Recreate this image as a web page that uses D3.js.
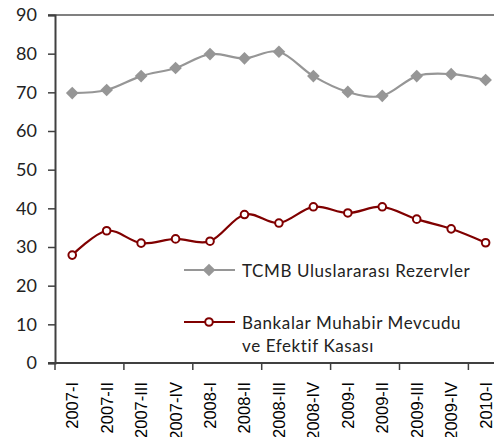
<!DOCTYPE html>
<html><head><meta charset="utf-8">
<script src="https://cdn.jsdelivr.net/npm/d3@7"></script>
<style>body{margin:0;background:#fff}svg{display:block}</style>
</head><body>
<svg id="c" width="494" height="437"></svg>
<script>
const categories = ["2007-I","2007-II","2007-III","2007-IV","2008-I","2008-II","2008-III","2008-IV","2009-I","2009-II","2009-III","2009-IV","2010-I"];
const reserves = [69.8, 70.6, 74.2, 76.3, 79.9, 78.8, 80.5, 74.2, 70.1, 69.1, 74.2, 74.7, 73.2];
const banks = [27.9, 34.2, 31.0, 32.1, 31.5, 38.4, 36.2, 40.4, 38.8, 40.4, 37.2, 34.7, 31.1];
const yTicks = [0,10,20,30,40,50,60,70,80,90];
const legendLabels = [["TCMB Uluslararası Rezervler"],["Bankalar Muhabir Mevcudu","ve Efektif Kasası"]];

const svg = d3.select("#c");
const L = 55, T = 15, B = 363, catW = 34.45;
const x = d3.scaleBand().domain(categories).range([L, L + catW*categories.length]).paddingInner(0).paddingOuter(0);
const y = d3.scaleLinear().domain([0,90]).range([B, T]);
const cx = d => x(d) + x.bandwidth()/2;

// top border
svg.append("line").attr("x1",L-7).attr("x2",494).attr("y1",y(90)).attr("y2",y(90)).attr("stroke","#808080").attr("stroke-width",2);

// y axis
const yAx = svg.append("g").attr("transform",`translate(${L},0)`)
  .call(d3.axisLeft(y).tickValues(yTicks).tickSize(7).tickPadding(11));
yAx.select(".domain").attr("stroke","#404040").attr("stroke-width",2);
yAx.selectAll(".tick line").attr("stroke","#404040").attr("stroke-width",1.5);
yAx.selectAll(".tick text").attr("font-family","Lato, sans-serif").attr("font-size",18).attr("fill","#222");

// x axis
const xAx = svg.append("g").attr("transform",`translate(0,${B})`);
xAx.append("line").attr("x1",L-7).attr("x2",494).attr("y1",0).attr("y2",0).attr("stroke","#404040").attr("stroke-width",2);
categories.forEach((c,i)=>{ if(i%2===0) xAx.append("line").attr("x1",x(c)).attr("x2",x(c)).attr("y1",0).attr("y2",7).attr("stroke","#404040").attr("stroke-width",1.5); });
xAx.selectAll("text.xl").data(categories).enter().append("text").attr("class","xl")
  .attr("transform",d=>`translate(${cx(d)+6},${19}) rotate(-90)`)
  .attr("text-anchor","end").attr("font-family","Liberation Sans, Arial, sans-serif").attr("font-size",16.5).attr("fill","#000")
  .text(d=>d);

const line = d3.line().x((d,i)=>cx(categories[i])).y(d=>y(d)).curve(d3.curveCardinal.tension(0));

// reserves
svg.append("path").datum(reserves).attr("d",line).attr("fill","none").attr("stroke","#969696").attr("stroke-width",2.2);
svg.selectAll("path.dm").data(reserves).enter().append("path").attr("class","dm")
  .attr("d", d3.symbol().type(d3.symbolSquare).size(80))
  .attr("transform",(d,i)=>`translate(${cx(categories[i])},${y(d)}) rotate(45)`).attr("fill","#969696");

// banks
svg.append("path").datum(banks).attr("d",line).attr("fill","none").attr("stroke","#800000").attr("stroke-width",2.2);
svg.selectAll("circle.bk").data(banks).enter().append("circle").attr("class","bk")
  .attr("cx",(d,i)=>cx(categories[i])).attr("cy",d=>y(d)).attr("r",3.8)
  .attr("fill","#fff").attr("stroke","#800000").attr("stroke-width",2);

// legend
const lg = svg.append("g");
lg.append("line").attr("x1",184).attr("x2",235).attr("y1",270).attr("y2",270).attr("stroke","#969696").attr("stroke-width",2.2);
lg.append("path").attr("d",d3.symbol().type(d3.symbolSquare).size(80)).attr("transform","translate(209,270) rotate(45)").attr("fill","#969696");
lg.append("line").attr("x1",184).attr("x2",235).attr("y1",322).attr("y2",322).attr("stroke","#800000").attr("stroke-width",2.2);
lg.append("circle").attr("cx",209).attr("cy",322).attr("r",3.8).attr("fill","#fff").attr("stroke","#800000").attr("stroke-width",2);
const tf = "Lato, sans-serif";
const lt = (yy, s) => lg.append("text").attr("x",242).attr("y",yy).attr("font-family",tf).attr("font-size",17).attr("letter-spacing",0.6).attr("fill","#222").text(s);
lt(277, legendLabels[0][0]);
lt(329, legendLabels[1][0]);
lt(352, legendLabels[1][1]);
</script>
</body></html>
